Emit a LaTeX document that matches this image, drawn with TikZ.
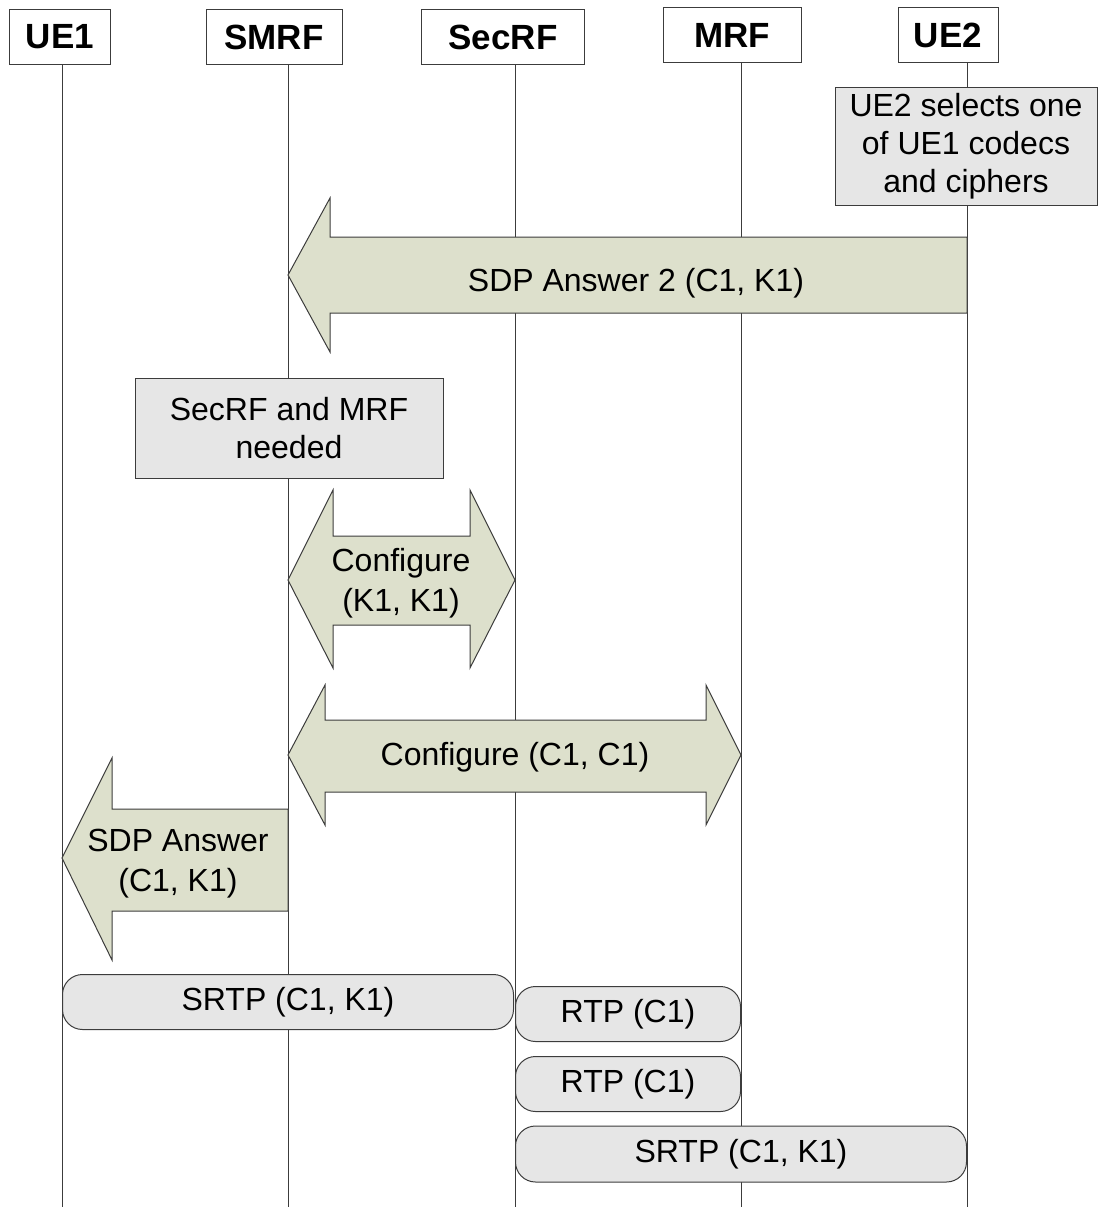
\documentclass[tikz,border=0pt]{standalone}
\usepackage{fontspec}
\setmainfont{Liberation Sans}
\usepackage{xcolor}
\usetikzlibrary{positioning}
\definecolor{msgfill}{RGB}{221,224,204}
\definecolor{notefill}{RGB}{230,230,230}
\definecolor{edgecol}{RGB}{60,60,60}

\begin{document}
\begin{tikzpicture}[x=1pt,y=-1pt,
    head/.style={draw=edgecol,line width=1pt,fill=white,minimum height=55pt,inner sep=0pt,font=\fontsize{35}{40}\selectfont\bfseries},
    life/.style={draw=edgecol,line width=1pt},
    msg/.style={draw=edgecol,line width=1pt,fill=msgfill,line join=miter},
    note/.style={draw=edgecol,line width=1pt,fill=notefill,align=center,inner sep=0pt,font=\fontsize{32}{38}\selectfont},
    flow/.style={draw=edgecol,line width=1pt,fill=notefill,rounded corners=20pt,inner sep=0pt,font=\fontsize{32}{38}\selectfont},
    label/.style={align=center,inner sep=0pt,font=\fontsize{32}{40}\selectfont}]
  \useasboundingbox (0,0) rectangle (1099,1207);

  % lifeline positions
  \foreach \n/\x in {ue1/62,smrf/288,secrf/515,mrf/741,ue2/967}
    \coordinate (\n) at (\x,0);

  % entities
  \node[head,minimum width=101pt] (ue1-head) at (60,37) {UE1};
  \node[head,minimum width=136pt] (smrf-head) at (274,37) {SMRF};
  \node[head,minimum width=163pt] (secrf-head) at (503,37) {SecRF};
  \node[head,minimum width=138pt] (mrf-head) at (732,35) {MRF};
  \node[head,minimum width=100pt] (ue2-head) at (948,35) {UE2};

  \foreach \n in {ue1,smrf,secrf,mrf,ue2}
    \draw[life] (\n |- \n-head.south) -- (\n |- 0,1207);

  % UE2 decision
  \node[note,minimum width=262pt,minimum height=118pt] (select) at (966,146)
    {UE2 selects one\\of UE1 codecs\\and ciphers};

  % SDP answer 2
  \draw[msg] (ue2 |- 0,237) -- (330,237) -- (330,198) -- (smrf |- 0,275)
    -- (330,352) -- (330,313) -- (ue2 |- 0,313) -- cycle;
  \node[label] (answer2) at (636,283) {SDP Answer 2 (C1, K1)};

  \node[note,minimum width=308pt,minimum height=100pt] (needed) at (289,428)
    {SecRF and MRF\\needed};

  % configure SecRF
  \draw[msg] (smrf |- 0,580) -- (333,490) -- (333,536) -- (470,536) -- (470,490)
    -- (secrf |- 0,580) -- (470,668) -- (470,625) -- (333,625) -- (333,668) -- cycle;
  \node[label] (confsec) at (401,583) {Configure\\(K1, K1)};

  % configure MRF
  \draw[msg] (smrf |- 0,755) -- (325,685) -- (325,720) -- (706,720) -- (706,685)
    -- (mrf |- 0,755) -- (706,825) -- (706,792) -- (325,792) -- (325,825) -- cycle;
  \node[label] (confmrf) at (515,757) {Configure (C1, C1)};

  % SDP answer to UE1
  \draw[msg] (ue1 |- 0,858) -- (112,758) -- (112,809) -- (smrf |- 0,809)
    -- (smrf |- 0,911) -- (112,911) -- (112,960) -- cycle;
  \node[label] (answer1) at (178,864) {SDP Answer\\(C1, K1)};

  % media paths
  \node[flow,minimum width=451pt,minimum height=55pt] (srtp1) at (288,1002) {SRTP (C1, K1)};
  \node[flow,minimum width=225pt,minimum height=55pt] (rtp1) at (628,1014) {RTP (C1)};
  \node[flow,minimum width=225pt,minimum height=55pt] (rtp2) at (628,1084) {RTP (C1)};
  \node[flow,minimum width=451pt,minimum height=56pt] (srtp2) at (741,1154) {SRTP (C1, K1)};
\end{tikzpicture}
\end{document}
